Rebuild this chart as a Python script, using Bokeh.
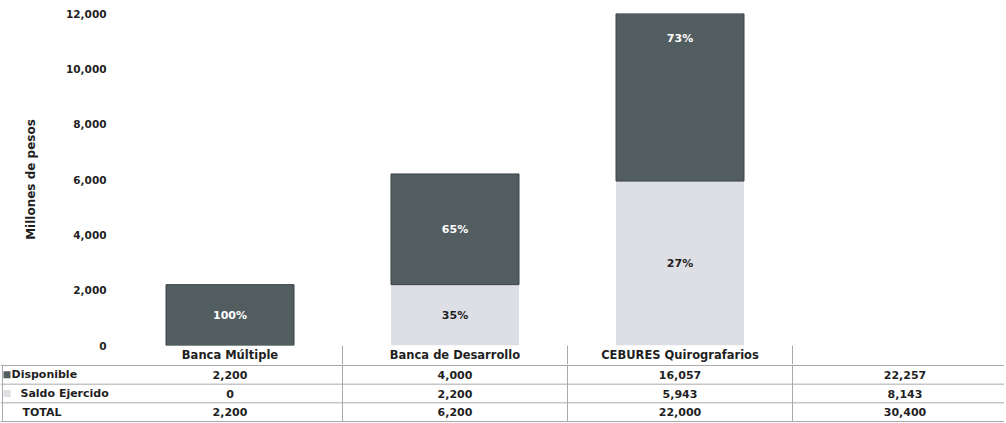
from bokeh.plotting import figure
from bokeh.models import Range1d, FixedTicker, NumeralTickFormatter
from bokeh.embed import file_html
from bokeh.resources import INLINE
from bokeh.core.properties import value

# ---------------- data ----------------
categories = ["Banca Múltiple", "Banca de Desarrollo", "CEBURES Quirografarios"]
disponible = [2200, 4000, 16057]
saldo_ejercido = [0, 2200, 5943]
row_labels = ["Disponible", "Saldo Ejercido", "TOTAL"]
y_ticks = [0, 2000, 4000, 6000, 8000, 10000, 12000]
y_axis_title = "Millones de pesos"

# ---------------- style ----------------
DARK = "#525d60"
DARK_EDGE = "#3b4547"
LIGHT = "#dedee5"
TXT = "#1f1f1f"
GRID = "#a9a9a9"
FONT = "DejaVu Sans"
FS = "11px"

W = 1004
LEFT = 117          # px left of chart frame
COL = 225           # px per category column
A_H = 364
BOTTOM_A = 19
B_H = 58
Y_MAX = 12000

n = len(categories)
xs = list(range(n))
totals = [d + s for d, s in zip(disponible, saldo_ejercido)]

x_end = -0.5 + (W - LEFT) / COL
x_start_b = -0.5 - LEFT / COL

# ---------------- chart ----------------
p = figure(width=W, height=A_H, output_backend="svg", toolbar_location=None,
           x_range=Range1d(-0.5, x_end), y_range=Range1d(0, Y_MAX),
           min_border_left=LEFT, min_border_right=0, min_border_top=13,
           min_border_bottom=BOTTOM_A)
p.outline_line_color = None
p.xgrid.visible = False
p.ygrid.visible = False
p.background_fill_color = "white"
p.border_fill_color = "white"

bw = 128 / COL
p.vbar(x=xs, width=bw, bottom=0, top=saldo_ejercido, fill_color=LIGHT,
       line_color=None)
p.vbar(x=xs, width=bw, bottom=saldo_ejercido, top=totals, fill_color=DARK,
       line_color=DARK_EDGE, line_width=1)

# percentage labels
lx, ly, lt, lc = [], [], [], []
for i in range(n):
    t = totals[i]
    if saldo_ejercido[i] > 0:
        lx.append(i)
        ly.append(saldo_ejercido[i] / 2)
        lt.append(f"{round(saldo_ejercido[i] / t * 100)}%")
        lc.append(TXT)
    if disponible[i] > 0:
        top = t
        if top > Y_MAX:
            yy = Y_MAX * 0.925
        else:
            yy = (saldo_ejercido[i] + top) / 2
        lx.append(i)
        ly.append(yy)
        lt.append(f"{round(disponible[i] / t * 100)}%")
        lc.append("white")
p.text(x=lx, y=ly, text=lt, text_color=lc, text_align="center",
       text_baseline="middle", text_font=value(FONT), text_font_style="bold",
       text_font_size="11px")

# y axis
ya = p.yaxis[0]
ya.ticker = FixedTicker(ticks=y_ticks)
ya.formatter = NumeralTickFormatter(format="0,0")
ya.axis_line_color = None
ya.major_tick_line_color = None
ya.minor_tick_line_color = None
ya.major_tick_out = 0
ya.major_tick_in = 0
ya.major_label_standoff = 11
ya.major_label_text_font = FONT
ya.major_label_text_font_style = "bold"
ya.major_label_text_font_size = "10.5px"
ya.major_label_text_color = TXT
ya.axis_label = y_axis_title
ya.axis_label_text_font = FONT
ya.axis_label_text_font_style = "bold"
ya.axis_label_text_font_size = "12px"
ya.axis_label_text_color = TXT
ya.axis_label_standoff = 25

# x axis = table header row (category names, column dividers as minor ticks)
xa = p.xaxis[0]
xa.ticker = FixedTicker(ticks=xs, minor_ticks=[i + 0.5 for i in xs])
xa.major_label_overrides = {i: c for i, c in enumerate(categories)}
xa.axis_line_color = None
xa.major_tick_line_color = None
xa.major_tick_out = 0
xa.major_tick_in = 0
xa.minor_tick_out = 0
xa.minor_tick_in = -BOTTOM_A
xa.minor_tick_line_color = GRID
xa.minor_tick_line_width = 1
xa.major_label_standoff = 2
xa.major_label_text_font = FONT
xa.major_label_text_font_style = "bold"
xa.major_label_text_font_size = "11.5px"
xa.major_label_text_color = TXT

# ---------------- table body ----------------
Y_TOP_B = 3.054
Y_BOT_B = -0.054
q = figure(width=W, height=B_H, output_backend="svg", toolbar_location=None,
           x_range=Range1d(x_start_b, x_end), y_range=Range1d(Y_BOT_B, Y_TOP_B),
           min_border=0)
q.outline_line_color = None
q.xgrid.visible = False
q.ygrid.visible = False
q.xaxis.visible = False
q.yaxis.visible = False
q.background_fill_color = "white"
q.border_fill_color = "white"

# horizontal rules
q.segment(x0=[x_start_b] * 4, x1=[x_end] * 4, y0=[3, 2, 1, 0], y1=[3, 2, 1, 0],
          line_color=GRID, line_width=1)
# vertical dividers
q.segment(x0=[i + 0.5 for i in range(n)], x1=[i + 0.5 for i in range(n)],
          y0=[Y_BOT_B] * n, y1=[Y_TOP_B] * n, line_color=GRID, line_width=1)
q.segment(x0=[x_start_b + 2 / COL], x1=[x_start_b + 2 / COL], y0=[0], y1=[3],
          line_color=GRID, line_width=1)

# values
rows = [disponible + [sum(disponible)],
        saldo_ejercido + [sum(saldo_ejercido)],
        totals + [sum(totals)]]
vx, vy, vt = [], [], []
for r, vals in enumerate(rows):
    for c, v in enumerate(vals):
        vx.append(c)
        vy.append(2.5 - r)
        vt.append(f"{v:,}")
q.text(x=vx, y=vy, text=vt, text_align="center", text_baseline="middle",
       text_font=value(FONT), text_font_style="bold", text_font_size=FS,
       text_color=TXT)

# row labels with legend squares
q.scatter(x=[x_start_b + 6.5 / COL] * 2, y=[2.5, 1.5], marker="square", size=7,
          fill_color=[DARK, LIGHT], line_color=None)
q.text(x=[x_start_b + 11 / COL, x_start_b + 20 / COL, x_start_b + 22 / COL],
       y=[2.5, 1.5, 0.5], text=row_labels, text_align="left",
       text_baseline="middle", text_font=value(FONT), text_font_style="bold",
       text_font_size=FS, text_color=TXT)

open("out.html", "w").write(file_html([p, q], INLINE))
